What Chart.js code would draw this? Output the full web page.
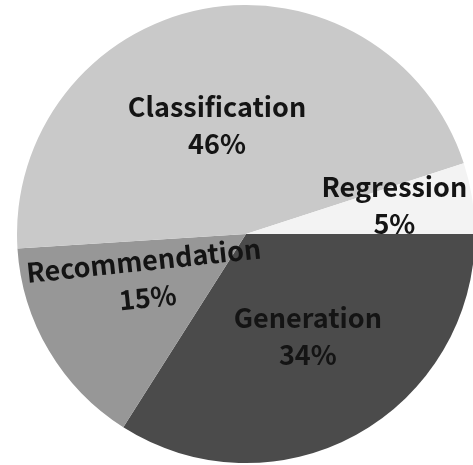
<!DOCTYPE html>
<html>
<head>
<meta charset="utf-8">
<script src="https://cdn.jsdelivr.net/npm/chart.js@4.4.0/dist/chart.umd.min.js"></script>
<style>
	html, body { margin: 0; padding: 0; background: #fff; overflow: hidden; }
	#box { position: absolute; left: 0; top: 0; width: 492px; height: 468px; }
</style>
</head>
<body>
<div id="box"><canvas id="pie"></canvas></div>
<script>
'use strict';

// slices, clockwise from 3 o'clock
const labels = ['Generation', 'Recommendation', 'Classification', 'Regression'];
const shares = [34, 15, 46, 5];
const colors = ['#4b4b4b', '#979797', '#c9c9c9', '#f3f3f3'];

// where each label sits: fraction of radius, angle nudge (deg), tilt (deg)
const labelPlace = [
	{r: 0.52, nudge: -2.5, tilt: 0},
	{r: 0.48, nudge: 6.5, tilt: -6},
	{r: 0.49, nudge: -4.2, tilt: 0},
	{r: 0.66, nudge: -2, tilt: 0},
];

const sliceLabels = {
	id: 'sliceLabels',
	afterDatasetsDraw(chart) {
		let ctx = chart.ctx;
		let meta = chart.getDatasetMeta(0);
		meta.data.forEach((arc, ix) => {
			let p = arc.getProps(['x', 'y', 'startAngle', 'endAngle', 'outerRadius'], true);
			let place = labelPlace[ix];
			let mid = (p.startAngle + p.endAngle) / 2 + place.nudge * Math.PI / 180;
			let d = p.outerRadius * place.r;
			let cx = p.x + Math.cos(mid) * d;
			let cy = p.y + Math.sin(mid) * d;
			ctx.save();
			ctx.translate(cx, cy);
			ctx.rotate(place.tilt * Math.PI / 180);
			ctx.fillStyle = '#141414';
			ctx.textAlign = 'center';
			ctx.textBaseline = 'middle';
			ctx.font = 'bold 27px "Noto Sans CJK SC", "Noto Sans", sans-serif';
			ctx.fillText(labels[ix], 0, -18.5);
			ctx.fillText(shares[ix] + '%', 0, 18.5);
			ctx.restore();
		});
	}
};

new Chart(document.getElementById('pie'), {
	type: 'pie',
	data: {
		labels: labels,
		datasets: [{
			data: shares,
			backgroundColor: colors,
			borderWidth: 0,
		}]
	},
	plugins: [sliceLabels],
	options: {
		responsive: true,
		maintainAspectRatio: false,
		animation: false,
		rotation: 90,
		radius: 229,
		layout: {padding: 0},
		plugins: {
			legend: {display: false},
			tooltip: {enabled: false},
		},
	},
});
</script>
</body>
</html>
